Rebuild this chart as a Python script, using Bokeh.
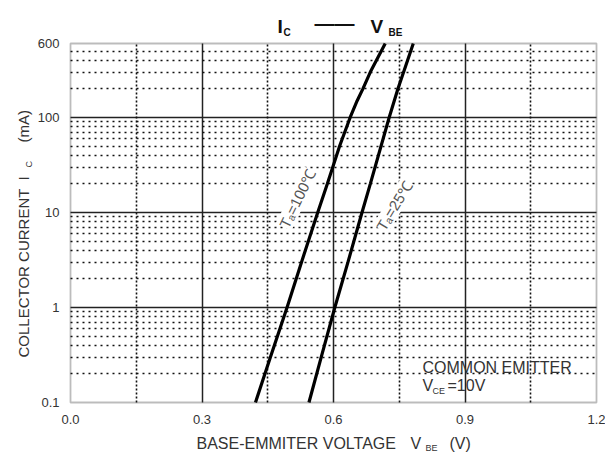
import math
from bokeh.plotting import figure
from bokeh.models import Range1d, FixedTicker, Grid, Label, BoxAnnotation
from bokeh.embed import file_html
from bokeh.resources import INLINE

# ---- data ----
v_100c = [0.422, 0.456, 0.494, 0.527, 0.564, 0.586, 0.614, 0.638, 0.654, 0.667, 0.684, 0.698, 0.718]
i_100c = [0.1, 0.3, 1, 3, 10, 20, 50, 100, 150, 200, 300, 400, 600]
v_25c = [0.544, 0.572, 0.603, 0.633, 0.665, 0.684, 0.727, 0.747, 0.760, 0.782]
i_25c = [0.1, 0.3, 1, 3, 10, 20, 100, 200, 300, 600]

x_ticks = [0.0, 0.3, 0.6, 0.9, 1.2]
x_tick_labels = ["0.0", "0.3", "0.6", "0.9", "1.2"]
y_ticks = [0.1, 1, 10, 100, 600]
y_tick_labels = ["0.1", "1", "10", "100", "600"]
x_major_grid = [0.3, 0.6, 0.9]
x_minor_grid = [0.15, 0.45, 0.75, 1.05]
y_major_grid = [1, 10, 100]
y_minor_grid = [0.2, 0.3, 0.4, 0.5, 0.6, 0.7, 0.8, 0.9,
                2, 3, 4, 5, 6, 7, 8, 9,
                20, 30, 40, 50, 60, 70, 80, 90,
                200, 300, 400, 500]
X_MIN, X_MAX = 0.0, 1.2
Y_MIN, Y_MAX = 0.1, 600

FONT = "Liberation Sans"
TXT = "#333333"

# canvas / plot-box geometry (pixels)
W, H = 605, 453
FL, FR, FT, FB = 70, 596, 43, 402
xpp = (X_MAX - X_MIN) / (FR - FL)
ppd = (FB - FT) / math.log10(Y_MAX / Y_MIN)
x_start = X_MIN - FL * xpp
x_end = X_MAX + (W - FR) * xpp
y_end = 10 ** (math.log10(Y_MAX) + FT / ppd)
y_start = 10 ** (math.log10(Y_MIN) - (H - FB) / ppd)

p = figure(width=W, height=H, output_backend="svg", toolbar_location=None,
           x_range=Range1d(x_start, x_end), y_range=Range1d(y_start, y_end),
           y_axis_type="log",
           min_border_left=0, min_border_right=0, min_border_top=0, min_border_bottom=0)
p.background_fill_color = "white"
p.border_fill_color = "white"
p.outline_line_color = None

# axes placed on the plot box edges
p.xaxis[0].fixed_location = Y_MIN
p.yaxis[0].fixed_location = X_MIN
for ax in (p.xaxis[0], p.yaxis[0]):
    ax.axis_line_color = None
    ax.major_tick_line_color = None
    ax.minor_tick_line_color = None
    ax.major_label_text_font = FONT
    ax.major_label_text_font_size = "13px"
    ax.major_label_text_color = TXT
p.xaxis[0].ticker = FixedTicker(ticks=x_ticks)
p.xaxis[0].major_label_overrides = {t: s for t, s in zip(x_ticks, x_tick_labels)}
p.xaxis[0].major_label_standoff = 6
p.yaxis[0].ticker = FixedTicker(ticks=y_ticks)
p.yaxis[0].major_label_overrides = {t: s for t, s in zip(y_ticks, y_tick_labels)}
p.yaxis[0].major_label_standoff = 5

# grids (limited to the plot box)
p.xgrid[0].ticker = FixedTicker(ticks=x_major_grid)
p.xgrid[0].grid_line_color = "#222222"
p.xgrid[0].grid_line_width = 1.5
p.xgrid[0].cross_bounds = (Y_MIN, Y_MAX)
p.ygrid[0].ticker = FixedTicker(ticks=y_major_grid)
p.ygrid[0].grid_line_color = "#222222"
p.ygrid[0].grid_line_width = 1.5
p.ygrid[0].cross_bounds = (X_MIN, X_MAX)
p.add_layout(Grid(dimension=0, ticker=FixedTicker(ticks=x_minor_grid), cross_bounds=(Y_MIN, Y_MAX),
                  grid_line_color="#111111", grid_line_width=1.6, grid_line_dash="2 2"))
p.add_layout(Grid(dimension=1, ticker=FixedTicker(ticks=y_minor_grid), cross_bounds=(X_MIN, X_MAX),
                  grid_line_color="#111111", grid_line_width=1.6, grid_line_dash="2 4"))

# plot box outline
p.add_layout(BoxAnnotation(left=X_MIN, right=X_MAX, bottom=Y_MIN, top=Y_MAX,
                           fill_alpha=0, fill_color=None, line_color="#222222", line_width=1.8))

# curves
p.line(v_100c, i_100c, line_color="black", line_width=3.2)
p.line(v_25c, i_25c, line_color="black", line_width=3.2)

# page-pixel -> data helpers for annotation placement
def dx(px):
    return X_MIN + (px - FL) * xpp
def dy(py):
    return 10 ** (math.log10(Y_MAX) - (py - FT) / ppd)

def lab(text, px, py, size, bold=False, angle=0.0, align="left", baseline="alphabetic",
        color=TXT, bg=None):
    kw = {}
    if bg is not None:
        kw["background_fill_color"] = bg
    p.add_layout(Label(x=dx(px), y=dy(py), text=text, angle=angle,
                       text_font=FONT, text_font_size=f"{size}px",
                       text_font_style="bold" if bold else "normal",
                       text_color=color, text_align=align, text_baseline=baseline, **kw))

# title
lab("I", 277, 26, 19, bold=True, color="#111111")
lab("C", 283, 32, 10, bold=True, color="#111111")
lab("——", 314, 22, 20, bold=True, color="#111111")
lab("V", 370, 26, 19, bold=True, color="#111111")
lab("BE", 388, 32, 10, bold=True, color="#111111")

# y axis label (rotated)
A = math.pi / 2
lab("COLLECTOR CURRENT", 23, 357, 15, angle=A)
lab("I", 23, 180, 15, angle=A)
lab("C", 28, 167, 9, angle=A)
lab("(mA)", 23, 142, 15, angle=A)

# x axis label
lab("BASE-EMMITER VOLTAGE", 196, 443, 16)
lab("V", 410, 443, 16)
lab("BE", 425, 447, 9)
lab("(V)", 449, 443, 16)

# annotation
lab("COMMON EMITTER", 422, 367, 16)
lab("V", 422, 385, 16)
lab("CE", 432, 390, 9)
lab("=10V", 447, 385, 16)

# curve labels
lab("Tₐ=100℃", 297, 198, 15, angle=math.radians(64), align="center", baseline="middle",
    color="#555555", bg="white")
lab("Tₐ=25℃", 394, 205, 15, angle=math.radians(59), align="center", baseline="middle",
    color="#555555", bg="white")

open("out.html", "w").write(file_html(p, INLINE))
